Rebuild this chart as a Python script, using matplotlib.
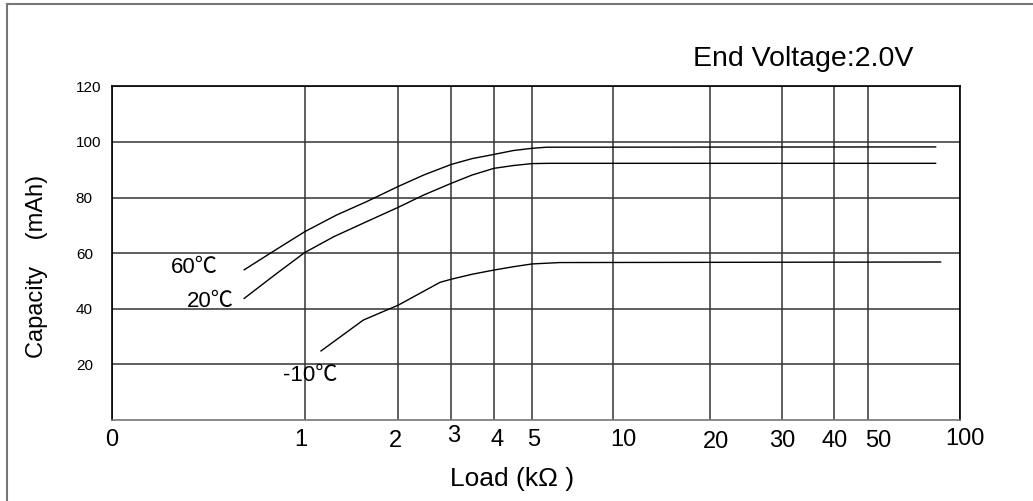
import numpy as np
import matplotlib
matplotlib.use("Agg")
import matplotlib.pyplot as plt
from matplotlib.lines import Line2D
from matplotlib.transforms import ScaledTranslation

plt.rcParams["font.family"] = ["Liberation Sans", "Noto Sans CJK SC", "DejaVu Sans"]

# axis ticks
load_ticks = [0, 1, 2, 3, 4, 5, 10, 20, 30, 40, 50, 100]
load_labels = ["0", "1", "2", "3", "4", "5", "10", "20", "30", "40", "50", "100"]
cap_ticks = [20, 40, 60, 80, 100, 120]

# curves: load (kOhm) vs capacity (mAh)
load_60 = [0.686, 0.85, 1.0, 1.34, 1.66, 2.0, 2.48, 3.0, 3.49, 4.0, 4.51, 5.0, 5.9, 86.6]
cap_60 = [54.0, 61.2, 67.7, 73.7, 78.5, 84.0, 88.1, 91.9, 94.0, 95.5, 96.9, 97.7, 98.1, 98.2]

load_20 = [0.686, 0.855, 1.0, 1.31, 1.66, 2.0, 2.48, 3.0, 3.49, 4.0, 4.51, 5.0, 6.1, 86.6]
cap_20 = [43.7, 52.7, 60.2, 65.9, 71.3, 76.5, 80.9, 85.1, 88.1, 90.5, 91.5, 92.2, 92.3, 92.3]

load_m10 = [1.174, 1.625, 2.0, 2.79, 3.0, 3.49, 4.0, 4.51, 5.0, 6.7, 89.3]
cap_m10 = [24.8, 35.9, 41.3, 49.5, 50.6, 52.4, 53.9, 55.1, 56.1, 56.6, 56.8]

# the printed load axis is not a true log axis: where each tick sits (share of axis width)
scale_frac = [0, 0.2272, 0.3376, 0.3999, 0.4503, 0.4951, 0.5910, 0.7046, 0.7895, 0.8515, 0.8915, 1.0]
# small hand-set nudges of the printed tick numbers (points)
label_dx = [0, -3, -2, 1.5, 2, 1, 7.5, 4.5, 0, 0, 7.5, 3.5]
label_dy = [0, 0, -1, 3, 0, 0, 0, -1.5, -1, -1, -1, 1]


def fwd(x):
    return np.interp(x, load_ticks, scale_frac)


def inv(u):
    return np.interp(u, scale_frac, load_ticks)


fig = plt.figure(figsize=(10.33, 5.01), dpi=100)
ax = fig.add_axes([0.1084, 0.1619, 0.8212, 0.6658])
ax.set_xscale("function", functions=(fwd, inv))
ax.set_xlim(0, 100)
ax.set_ylim(0, 120)

ax.set_xticks(load_ticks)
ax.set_xticklabels(load_labels, fontsize=17)
ax.xaxis.set_minor_locator(matplotlib.ticker.NullLocator())
ax.set_yticks(cap_ticks)
ax.set_yticklabels([str(v) for v in cap_ticks], fontsize=11)
ax.tick_params(axis="x", length=0, pad=6.5)
ax.tick_params(axis="y", length=0, pad=26)
for lab in ax.get_yticklabels():
    lab.set_horizontalalignment("left")
for lab, dx, dy in zip(ax.get_xticklabels(), label_dx, label_dy):
    lab.set_transform(lab.get_transform() + ScaledTranslation(dx / 72, dy / 72, fig.dpi_scale_trans))

ax.grid(True, color="#333333", linewidth=1.1)
ax.set_axisbelow(True)
for s in ax.spines.values():
    s.set_linewidth(1.2)
    s.set_color("black")
ax.spines["bottom"].set_color("#777777")

for xs, ys in [(load_60, cap_60), (load_20, cap_20), (load_m10, cap_m10)]:
    ax.plot(xs, ys, color="black", linewidth=1.0)

# curve labels next to where each curve starts
ax.annotate("60℃", (load_60[0], cap_60[0]), xytext=(-18.7, -2.4),
            textcoords="offset points", ha="right", va="baseline", fontsize=16)
ax.annotate("20℃", (load_20[0], cap_20[0]), xytext=(-7.2, -6.3),
            textcoords="offset points", ha="right", va="baseline", fontsize=16)
ax.annotate("-10℃", (load_m10[0], cap_m10[0]), xytext=(-7.6, -21.6),
            textcoords="offset points", ha="center", va="baseline", fontsize=16)

ax.set_xlabel("Load (kΩ )", fontsize=19)
ax.xaxis.set_label_coords(0.4715, -0.140)
ax.set_ylabel("Capacity    (mAh)", fontsize=17, va="center")
ax.yaxis.set_label_coords(-0.088, 0.46)

fig.text(0.7773, 0.8683, "End Voltage:2.0V", fontsize=20.5, ha="center", va="baseline")

# frame lines along the top and left edge of the picture
fig.add_artist(Line2D([0.0063, 1.0], [0.992, 0.992], transform=fig.transFigure,
                      color="#777777", linewidth=1.5))
fig.add_artist(Line2D([0.0063, 0.0063], [0.0, 0.992], transform=fig.transFigure,
                      color="#777777", linewidth=1.5))

fig.savefig("out.png", dpi=100)
